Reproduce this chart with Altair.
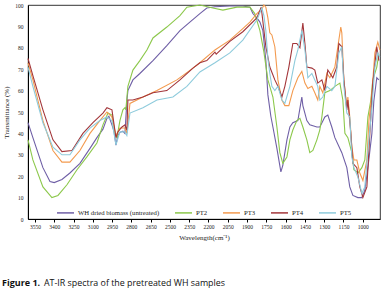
import altair as alt
import pandas as pd

# ---- data (wavenumber cm-1, transmittance %) ----
series_names = ["WH dried biomass (untreated)", "PT2", "PT3", "PT4", "PT5"]
series_colors = ["#6f5fa6", "#8cc84b", "#f39a4e", "#a3363a", "#8ecbdc"]

wh_w = [3604, 3566, 3488, 3433, 3400, 3340, 3278, 3200, 3122, 3068, 3021, 2990, 2975, 2951, 2935, 2920,
        2905, 2889, 2866, 2850, 2835, 2827, 2788, 2734, 2632, 2524, 2422, 2345, 2267, 2213, 2150, 2034,
        1933, 1878, 1855, 1824, 1800, 1777, 1754, 1738, 1715, 1699, 1668, 1637, 1622, 1590, 1567, 1544,
        1505, 1474, 1466, 1435, 1412, 1357, 1334, 1295, 1272, 1241, 1217, 1163, 1124, 1101, 1077, 1038,
        1007, 984, 960, 929, 914, 891, 875]
wh_t = [45, 38, 24, 17.5, 17, 18.5, 21.5, 26, 33, 38, 42, 47, 48, 44, 41, 34.5,
        39, 40.5, 41, 40, 55, 60, 65, 68, 74, 81, 88, 92, 96, 98.6, 99.2, 99.5,
        99.5, 99, 96, 94, 92, 88, 74, 58, 48, 43, 33, 22, 25, 37, 43, 45,
        46, 57, 53, 46, 44, 43, 43, 47.7, 48.6, 43, 38, 31, 24, 15, 11, 10,
        10, 13.5, 24, 40, 55, 66, 65]

pt2_w = [3604, 3566, 3488, 3418, 3371, 3301, 3223, 3146, 3068, 3021, 2982, 2951, 2928, 2912, 2889, 2866,
         2850, 2843, 2827, 2788, 2734, 2679, 2632, 2524, 2422, 2368, 2267, 2166, 2088, 1979, 1878, 1840,
         1800, 1769, 1738, 1723, 1699, 1668, 1645, 1622, 1590, 1567, 1544, 1513, 1489, 1466, 1435, 1412,
         1388, 1357, 1334, 1318, 1295, 1256, 1217, 1178, 1155, 1139, 1116, 1085, 1069, 1038, 1007, 984,
         960, 937, 922, 891, 875]
pt2_t = [37, 27.6, 15, 10, 11, 16, 23, 29, 35.5, 44, 49.5, 48.6, 40, 38, 46, 51,
         52, 51, 62, 69.6, 74, 79, 84.6, 89.7, 95, 99, 100, 98.6, 97.6, 99, 99, 96,
         88, 78, 65, 62, 57, 43, 31, 26, 29, 37, 41.6, 46, 47, 43, 37, 31,
         32, 37, 41.6, 47.7, 59, 60, 62, 63.5, 55.6, 40, 38, 31, 23, 21.5, 24, 27.6,
         47.7, 55.6, 65, 71, 77]

pt3_w = [3604, 3566, 3488, 3410, 3340, 3278, 3200, 3122, 3045, 2990, 2951, 2920, 2889, 2850, 2835, 2811,
         2710, 2601, 2446, 2321, 2267, 2150, 2034, 1933, 1878, 1824, 1785, 1769, 1754, 1738, 1723, 1707,
         1684, 1660, 1629, 1606, 1575, 1544, 1505, 1474, 1450, 1427, 1396, 1373, 1350, 1334, 1311, 1279,
         1256, 1217, 1194, 1171, 1163, 1147, 1124, 1116, 1101, 1085, 1069, 1046, 1023, 999, 968, 952,
         929, 906, 883, 867]
pt3_t = [73, 65, 46, 32, 26.6, 26.6, 32, 40, 46, 50, 47.7, 39, 42.5, 42.5, 40, 54,
         57, 60, 65, 70.5, 73, 79, 83.6, 89, 92, 96, 98, 100, 99, 94, 87, 86,
         80.5, 65, 55.6, 53, 53, 60, 66, 69, 63.5, 61, 62, 59, 55.6, 62, 59, 68,
         66, 71, 80.5, 89.7, 87, 65, 52, 57, 47.7, 33.6, 27.6, 27.6, 21.5, 18, 27.6, 46,
         59, 77.6, 82.7, 79]

pt4_w = [3604, 3566, 3488, 3410, 3340, 3262, 3177, 3099, 3021, 2990, 2951, 2920, 2905, 2873, 2850, 2835,
         2827, 2788, 2710, 2632, 2524, 2422, 2321, 2267, 2213, 2150, 2140, 2034, 1933, 1824, 1800, 1790,
         1754, 1723, 1684, 1660, 1629, 1606, 1575, 1544, 1513, 1489, 1466, 1450, 1435, 1396, 1373, 1350,
         1318, 1295, 1272, 1233, 1202, 1186, 1163, 1147, 1124, 1116, 1093, 1077, 1046, 1023, 999, 968,
         945, 922, 891, 875]
pt4_t = [75, 67, 51, 37, 31.5, 32, 40, 45, 49.5, 52, 51, 38, 40.7, 43, 44, 41.6,
         55.6, 55.6, 57, 59, 60, 65, 70.5, 73, 74, 78, 77, 83, 87.5, 94, 97.5, 99,
         80.5, 71, 65, 62, 57, 62, 71, 82, 82, 80, 91.6, 82, 71, 70.5, 69.6, 63.5,
         65, 60, 69.6, 66, 71, 82, 80.5, 65, 51, 55.6, 40, 26, 24, 15, 10, 15,
         40, 63.5, 80.5, 74]

pt5_w = [3604, 3566, 3488, 3410, 3340, 3278, 3200, 3122, 3045, 2990, 2951, 2920, 2889, 2850, 2835, 2811,
         2710, 2601, 2477, 2368, 2267, 2150, 2034, 1933, 1824, 1785, 1769, 1754, 1738, 1723, 1707, 1684,
         1660, 1629, 1606, 1567, 1528, 1505, 1474, 1450, 1427, 1396, 1373, 1350, 1334, 1311, 1279, 1241,
         1217, 1186, 1163, 1147, 1124, 1101, 1085, 1069, 1038, 1007, 984, 960, 929, 906, 883, 867]
pt5_t = [71, 62, 45, 33.6, 30, 30, 37, 42.5, 46, 47.7, 46, 34.6, 40.7, 40.7, 39, 49.5,
         52, 55.6, 57, 62, 68.7, 73, 77.6, 83.6, 93, 98.6, 95, 88, 75, 68, 62, 60,
         62, 55.6, 54, 62, 74, 79, 88, 79, 66, 68, 65, 62, 55.6, 57, 62, 60,
         62, 77.6, 80.5, 62, 49.5, 47.7, 29, 24, 19.6, 12, 15, 32, 52, 71, 77.6, 75.6]

x_ticks = [3550, 3400, 3250, 3100, 2950, 2800, 2650, 2500, 2350, 2200, 2050, 1900, 1750, 1600, 1450, 1300, 1150, 1000]
y_ticks = [0, 10, 20, 30, 40, 50, 60, 70, 80, 90, 100]
caption_bold = ["Figure 1."]
caption_rest = ["AT-IR spectra of the pretreated WH samples"]

rows = []
for name, ws, ts in zip(series_names, [wh_w, pt2_w, pt3_w, pt4_w, pt5_w],
                        [wh_t, pt2_t, pt3_t, pt4_t, pt5_t]):
    for i, (w, t) in enumerate(zip(ws, ts)):
        rows.append({"series": name, "w": w, "t": t, "i": i})
df = pd.DataFrame(rows)

SERIF = "Liberation Serif"
CAPFONT = "Open Sans"

lines = alt.Chart(df).mark_line(strokeWidth=1.1).encode(
    x=alt.X("w:Q",
            scale=alt.Scale(domain=[3604, 866], nice=False, zero=False),
            axis=alt.Axis(values=x_ticks, format="d", title="Wavelength(cm\u207b\u00b9)", grid=False,
                          labelFont=SERIF, labelFontSize=5.5, labelColor="#222",
                          titleFont=SERIF, titleFontSize=7, titleFontWeight="normal", titleColor="#222",
                          tickSize=3, tickColor="#000", domainColor="#000", labelPadding=2, titlePadding=4,
                          labelFlush=False)),
    y=alt.Y("t:Q",
            scale=alt.Scale(domain=[0, 100], nice=False),
            axis=alt.Axis(values=y_ticks, title="Transmittance (%)", grid=False,
                          labelFont=SERIF, labelFontSize=5.5, labelColor="#222",
                          titleFont=SERIF, titleFontSize=7, titleFontWeight="normal", titleColor="#222",
                          tickSize=0, domainColor="#000", labelPadding=5, titlePadding=5)),
    color=alt.Color("series:N",
                    scale=alt.Scale(domain=series_names, range=series_colors),
                    legend=alt.Legend(orient="none", legendX=28, legendY=198, direction="horizontal",
                                      title=None, symbolType="stroke", symbolSize=289,
                                      symbolStrokeWidth=1.5, labelFont=SERIF, labelFontSize=6.7,
                                      labelColor="#222", labelOffset=3, columnPadding=12)),
    order=alt.Order("i:Q"),
)

cap1 = alt.Chart(pd.DataFrame({"c": caption_bold})).mark_text(
    align="left", baseline="middle", font=CAPFONT, fontSize=9,
    fontWeight="bold", color="#111"
).encode(text="c:N", x=alt.value(-26), y=alt.value(278))

cap2 = alt.Chart(pd.DataFrame({"c": caption_rest})).mark_text(
    align="left", baseline="middle", font=CAPFONT, fontSize=8.9,
    color="#111"
).encode(text="c:N", x=alt.value(16), y=alt.value(278))

chart = alt.layer(lines, cap1, cap2).properties(
    width=352, height=214,
    autosize=alt.AutoSizeParams(type="none"),
    padding={"left": 28, "top": 5, "right": 5, "bottom": 88},
).configure_view(stroke="#000", strokeWidth=0.8)

chart.save("out.html", embed_options={"renderer": "svg", "actions": False})
